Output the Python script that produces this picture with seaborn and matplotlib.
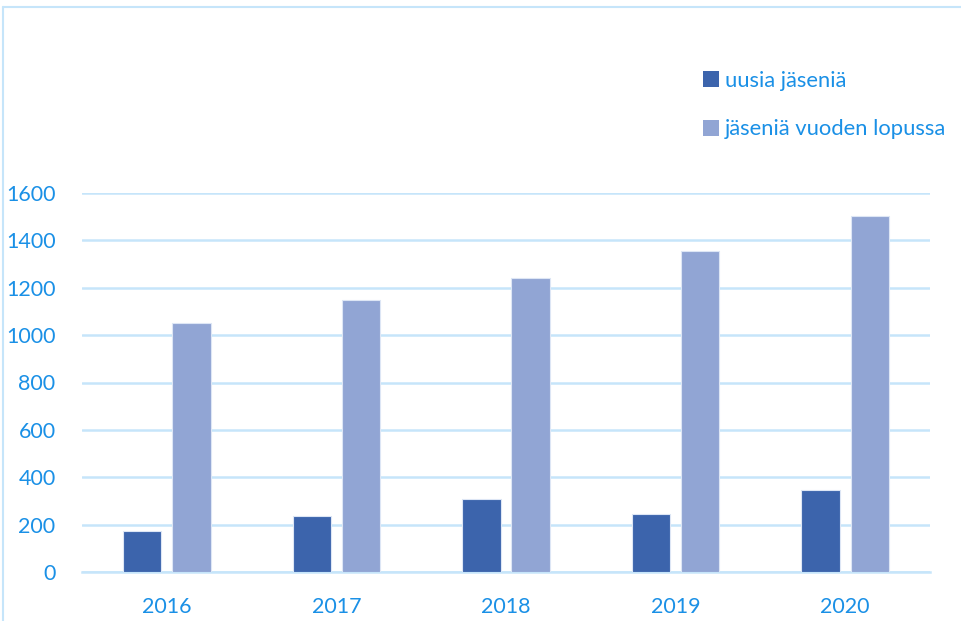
import matplotlib
matplotlib.use("Agg")
import matplotlib.pyplot as plt
import seaborn as sns
import pandas as pd
from matplotlib.patches import Patch
from matplotlib.lines import Line2D

years = ["2016", "2017", "2018", "2019", "2020"]
series_names = ["uusia jäseniä", "jäseniä vuoden lopussa"]
uusia = [175, 235, 310, 245, 345]
lopussa = [1050, 1150, 1240, 1355, 1505]
yticks = [0, 200, 400, 600, 800, 1000, 1200, 1400, 1600]

colors = ["#3c64ac", "#91a5d4"]
text_color = "#1a90e6"
grid_color = "#c6e5fa"

df = pd.DataFrame({
    "year": years * 2,
    "series": [series_names[0]] * len(years) + [series_names[1]] * len(years),
    "value": uusia + lopussa,
})

sns.set_theme(style="white")
plt.rcParams["font.family"] = ["Lato", "DejaVu Sans"]

fig = plt.figure(figsize=(9.62, 6.21), dpi=100)
ax = fig.add_axes([82 / 962, 1 - 572 / 621, 848 / 962, (572 - 193) / 621])

sns.barplot(data=df, x="year", y="value", hue="series", order=years,
            hue_order=series_names, palette=colors, saturation=1, width=0.58, gap=0.22,
            edgecolor="#dde6f5", linewidth=0.8, legend=False, ax=ax, zorder=3)

ax.set_xlim(-0.5, 4.5)
ax.set_ylim(0, 1600)
ax.set_yticks(yticks)
ax.set_yticklabels([str(v) for v in yticks])
ax.set_xlabel("")
ax.set_ylabel("")
ax.yaxis.grid(True, color=grid_color, linewidth=1.8, zorder=0)
ax.set_axisbelow(True)
for s in ["top", "right", "left"]:
    ax.spines[s].set_visible(False)
ax.spines["bottom"].set_color(grid_color)
ax.spines["bottom"].set_linewidth(1.8)
ax.tick_params(axis="y", length=0, pad=19, labelsize=15.5, labelcolor=text_color)
ax.tick_params(axis="x", length=0, pad=18, labelsize=15.5, labelcolor=text_color)

# outer chart frame (top and left edges visible)
fig.add_artist(Line2D([3 / 962, 3 / 962], [0, 1 - 6.5 / 621], transform=fig.transFigure,
                      color=grid_color, linewidth=1.5))
fig.add_artist(Line2D([3 / 962, 1], [1 - 6.5 / 621, 1 - 6.5 / 621], transform=fig.transFigure,
                      color=grid_color, linewidth=1.5))

handles = [Patch(facecolor=c, edgecolor="none") for c in colors]
leg = fig.legend(handles, series_names, loc="upper left",
                 bbox_to_anchor=(694 / 962, 1 - 62 / 621), frameon=False,
                 fontsize=15.8, handlelength=0.75, handleheight=0.75, handletextpad=0.25,
                 labelspacing=1.3, borderaxespad=0)
for t in leg.get_texts():
    t.set_color(text_color)

fig.savefig("out.png", dpi=100)
